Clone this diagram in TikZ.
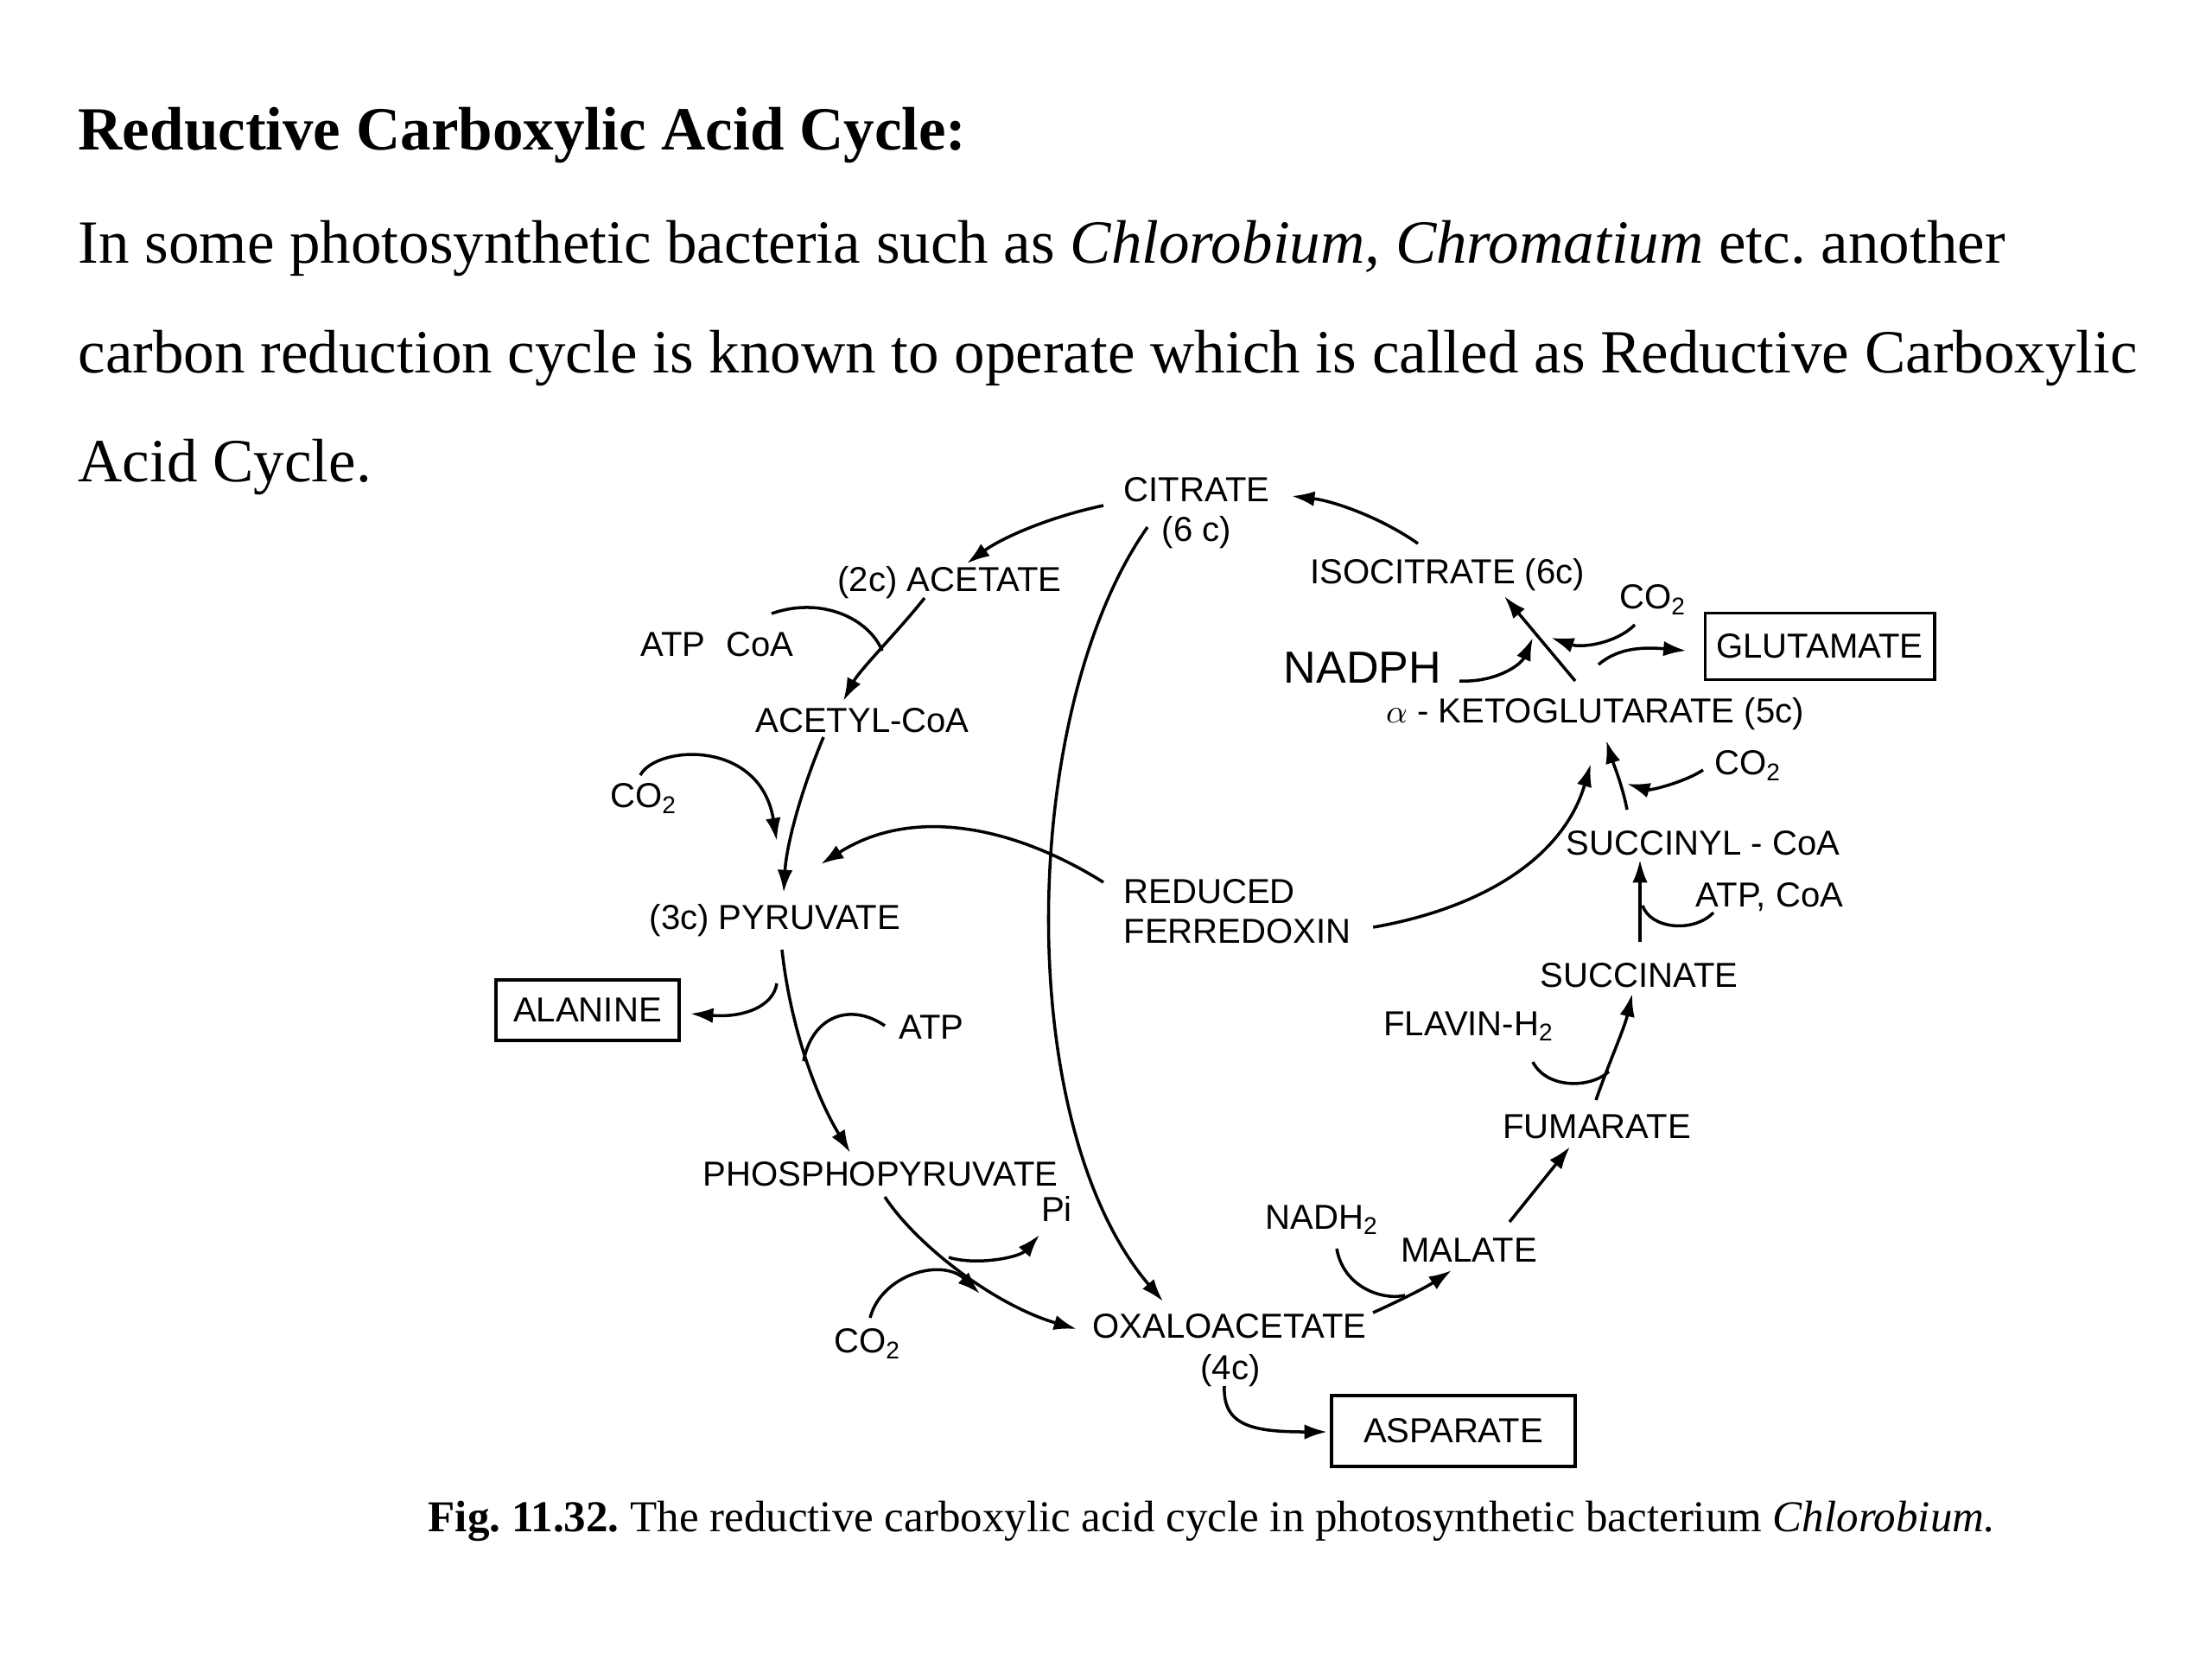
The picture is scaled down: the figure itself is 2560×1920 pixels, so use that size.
\documentclass[tikz,border=0pt]{standalone}
\usepackage{fontspec}
\setmainfont{Liberation Serif}
\newfontfamily\lblfam{Liberation Sans}
\usetikzlibrary{arrows.meta}
\frenchspacing
\newcommand\lblfont{\lblfam\fontsize{11.4}{13.7}\selectfont}
\newcommand\bigfont{\lblfam\fontsize{14.8}{17}\selectfont}
\newcommand\hdfont{\fontsize{20.2}{24}\selectfont}
\newcommand\capfnt{\fontsize{14.5}{17}\selectfont}
\begin{document}
\begin{tikzpicture}[x=0.01cm,y=-0.01cm,
  lbl/.style={font=\lblfont, inner sep=0pt},
  hd/.style={font=\hdfont, inner sep=0pt, anchor=base west},
  boxed/.style={draw, line width=1.1pt, font=\lblfont, inner sep=0pt},
  arr/.style={line width=1pt, -{Latex[length=7.5pt,width=5pt]}},
  hook/.style={line width=1pt}]
\fill[white] (0,0) rectangle (2560,1920);
\useasboundingbox (0,0) rectangle (2560,1920);
% header text
\node[hd] (h1) at (90,173) {\textbf{Reductive Carboxylic Acid Cycle:}};
\node[hd] (h2) at (90,304) {In some photosynthetic bacteria such as \textit{Chlorobium, Chromatium} etc. another};
\node[hd] (h3) at (90,431) {carbon reduction cycle is known to operate which is called as Reductive Carboxylic};
\node[hd] (h4) at (90,557) {Acid Cycle.};
% diagram labels
\node[lbl] (cit) at (1385,567) {CITRATE};
\node[lbl] (cit6) at (1385,616) {(6 c)};
\node[lbl] (act) at (1099,674) {(2c) ACETATE};
\node[lbl] (atpcoa) at (830,746) {ATP\hspace{0.6em}CoA};
\node[lbl] (acoa) at (998,834) {ACETYL-CoA};
\node[lbl] (co2a) at (745,924) {CO\textsubscript{2}};
\node[lbl] (pyr) at (897,1065) {(3c) PYRUVATE};
\node[boxed, minimum width=2.12cm, minimum height=0.70cm] (ala) at (680,1169) {ALANINE};
\node[lbl] (atp2) at (1078,1189) {ATP};
\node[lbl] (php) at (1019,1359) {PHOSPHOPYRUVATE};
\node[lbl] (pi) at (1223,1399) {Pi};
\node[lbl] (co2b) at (1004,1555) {CO\textsubscript{2}};
\node[lbl] (oaa) at (1423,1535) {OXALOACETATE};
\node[lbl] (oaa4) at (1424,1586) {(4c)};
\node[boxed, minimum width=2.82cm, minimum height=0.82cm] (asp) at (1682,1656) {ASPARATE};
\node[lbl, anchor=west] (fer1) at (1300,1032) {REDUCED};
\node[lbl, anchor=west] (fer2) at (1300,1078) {FERREDOXIN};
\node[lbl] (iso) at (1675,665) {ISOCITRATE (6c)};
\node[lbl] (co2c) at (1913,694) {CO\textsubscript{2}};
\node[boxed, minimum width=2.65cm, minimum height=0.77cm] (glu) at (2106,748) {GLUTAMATE};
\node[font=\bigfont, inner sep=0pt] (nadph) at (1577,773) {NADPH};
\node[lbl] (akg) at (1846,826) {$\alpha$ - KETOGLUTARATE (5c)};
\node[lbl] (co2d) at (2023,886) {CO\textsubscript{2}};
\node[lbl] (scoa) at (1971,976) {SUCCINYL - CoA};
\node[lbl] (atpcoa2) at (2048,1038) {ATP, CoA};
\node[lbl] (succ) at (1897,1129) {SUCCINATE};
\node[lbl] (flav) at (1700,1188) {FLAVIN-H\textsubscript{2}};
\node[lbl] (fum) at (1848,1304) {FUMARATE};
\node[lbl] (nadh) at (1530,1412) {NADH\textsubscript{2}};
\node[lbl] (mal) at (1700,1447) {MALATE};
% caption
\node[font=\capfnt, inner sep=0pt, anchor=base west] (cap) at (495,1772)
  {\textbf{Fig. 11.32.} The reductive carboxylic acid cycle in photosynthetic bacterium \textit{Chlorobium.}};
% connectors
\draw[arr] ([shift={(-108,18)}]cit.center) .. controls (1215,598) and (1160,622) .. ([shift={(20,-22)}]act.center);
\draw[arr] ([shift={(-34,-36)}]iso.center) .. controls (1600,600) and (1545,580) .. ([shift={(110,7)}]cit.center);
\draw[arr] ([shift={(-29,18)}]act.center) .. controls (1040,730) and (995,775) .. ([shift={(-22,-23)}]acoa.center);
\draw[hook] ([shift={(63,-36)}]atpcoa.center) .. controls (950,690) and (1005,715) .. ([shift={(23,-81)}]acoa.center);
\draw[arr] ([shift={(-45,19)}]acoa.center) .. controls (925,920) and (910,980) .. ([shift={(10,-32)}]pyr.center);
\draw[arr] ([shift={(-4,-27)}]co2a.center) .. controls (760,862) and (880,855) .. ([shift={(2,-92)}]pyr.center);
\draw[arr] ([shift={(-23,-11)}]fer1.west) .. controls (1180,960) and (1060,930) .. ([shift={(53,-65)}]pyr.center);
\draw[arr] ([shift={(-57,-6)}]cit6.center) .. controls (1180,820) and (1170,1300) .. ([shift={(-77,-29)}]oaa.center);
\draw[arr] ([shift={(8,34)}]pyr.center) .. controls (915,1190) and (945,1270) .. ([shift={(-35,-25)}]php.center);
\draw[arr] ([shift={(2,73)}]pyr.center) .. controls (895,1165) and (860,1178) .. ([shift={(11,4)}]ala.east);
\draw[hook] ([shift={(-54,-2)}]atp2.center) .. controls (985,1160) and (940,1175) .. ([shift={(-89,-131)}]php.center);
\draw[arr] ([shift={(5,26)}]php.center) .. controls (1060,1440) and (1150,1510) .. ([shift={(-177,3)}]oaa.center);
\draw[arr] ([shift={(79,96)}]php.center) .. controls (1130,1465) and (1180,1455) .. ([shift={(-20,30)}]pi.center);
\draw[arr] ([shift={(3,-30)}]co2b.center) .. controls (1020,1475) and (1090,1455) .. ([shift={(115,138)}]php.center);
\draw[arr] ([shift={(166,-16)}]oaa.center) .. controls (1620,1505) and (1650,1490) .. ([shift={(-20,23)}]mal.center);
\draw[hook] ([shift={(17,33)}]nadh.center) .. controls (1555,1490) and (1600,1505) .. ([shift={(-74,52)}]mal.center);
\draw[arr] ([shift={(47,-33)}]mal.center) -- ([shift={(-31,23)}]fum.center);
\draw[arr] ([shift={(-1,-31)}]fum.center) .. controls (1862,1230) and (1880,1190) .. ([shift={(-8,21)}]succ.center);
\draw[hook] ([shift={(74,41)}]flav.center) .. controls (1790,1260) and (1840,1260) .. ([shift={(14,-64)}]fum.center);
\draw[arr] ([shift={(1,-39)}]succ.center) -- ([shift={(-73,19)}]scoa.center);
\draw[hook] ([shift={(-65,18)}]atpcoa2.center) .. controls (1960,1080) and (1910,1075) .. ([shift={(4,-81)}]succ.center);
\draw[arr] ([shift={(25,-5)}]fer2.east) .. controls (1720,1050) and (1810,990) .. ([shift={(-5,58)}]akg.center);
\draw[arr] ([shift={(-88,-39)}]scoa.center) .. controls (1878,910) and (1866,880) .. ([shift={(13,31)}]akg.center);
\draw[arr] ([shift={(-52,5)}]co2d.center) .. controls (1950,905) and (1910,915) .. ([shift={(37,81)}]akg.center);
\draw[arr] ([shift={(-23,-38)}]akg.center) -- ([shift={(66,25)}]iso.center);
\draw[arr] ([shift={(112,15)}]nadph.center) .. controls (1730,790) and (1760,770) .. ([shift={(-72,-88)}]akg.center);
\draw[arr] ([shift={(-21,29)}]co2c.center) .. controls (1870,745) and (1830,750) .. ([shift={(-51,-88)}]akg.center);
\draw[arr] ([shift={(4,-57)}]akg.center) .. controls (1870,752) and (1895,748) .. ([shift={(-20,5)}]glu.west);
\draw[arr] ([shift={(-7,18)}]oaa4.center) .. controls (1415,1650) and (1450,1657) .. ([shift={(-3,1)}]asp.west);
\end{tikzpicture}
\end{document}
